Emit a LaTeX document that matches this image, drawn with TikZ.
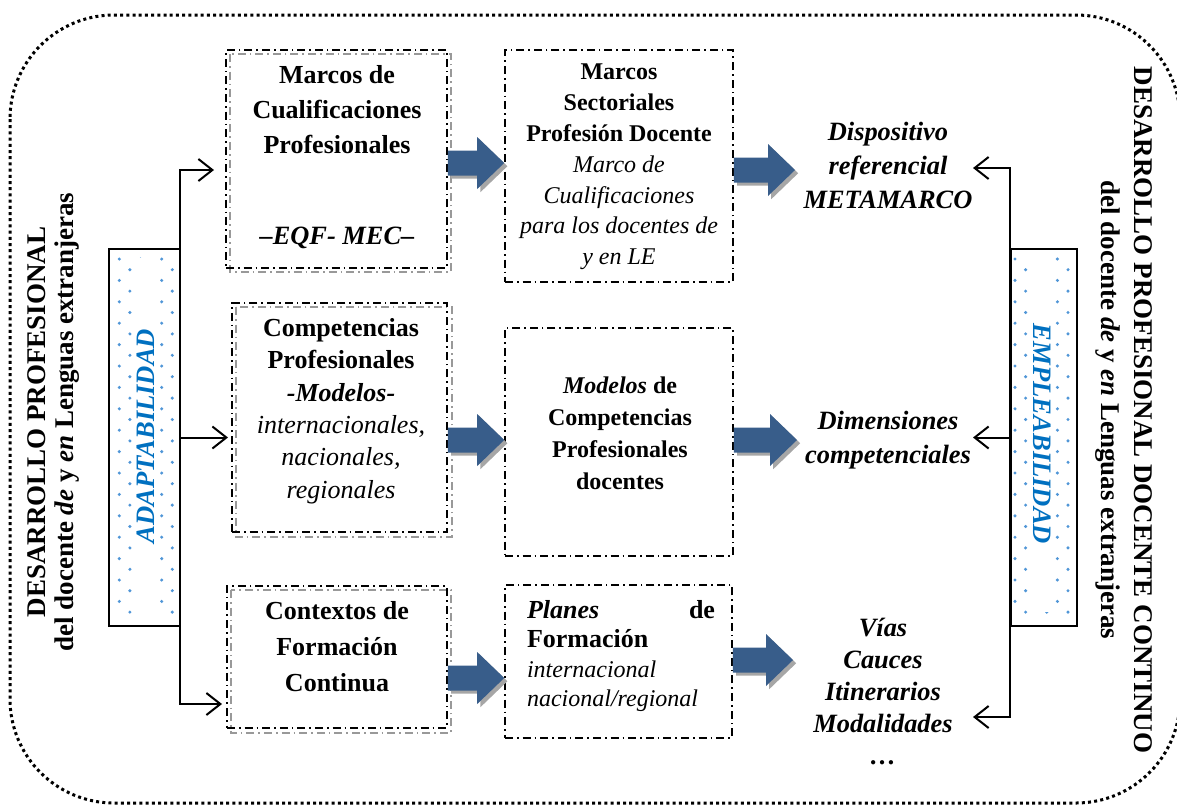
\documentclass[tikz,border=0pt]{standalone}
\usepackage{fontspec}
\setmainfont{Liberation Serif}
\usetikzlibrary{arrows.meta,calc,fit}
\definecolor{arrblue}{RGB}{56,93,138}
\definecolor{txtblue}{RGB}{0,112,192}
\definecolor{dotblue}{RGB}{80,150,215}
\newcommand\blockpath[4]{%
  \fill[#4] let \p1=(#1), \p2=(#2) in
  (\x1+#3,\y1+6.25pt-#3) -- (\x2-13.5pt+#3,\y1+6.25pt-#3) -- (\x2-13.5pt+#3,\y1+13pt-#3)
  -- (\x2+#3,\y1-#3) -- (\x2-13.5pt+#3,\y1-13pt-#3) -- (\x2-13.5pt+#3,\y1-6.25pt-#3)
  -- (\x1+#3,\y1-6.25pt-#3) -- cycle;}
\newcommand\blockarr[2]{\blockpath{#1}{#2}{1.6pt}{black!35}\blockpath{#1}{#2}{0pt}{arrblue}}
\tikzset{
  outerdot/.style={line width=1.5pt, dash pattern=on 1.5pt off 1.6pt},
  ddbox/.style={draw, line width=0.8pt, dash pattern=on 4pt off 2pt on 0.8pt off 2pt, inner sep=0pt},
  gdbox/.style={draw=black!40, line width=0.8pt, dash pattern=on 4pt off 2pt on 0.8pt off 2pt},
  sidebox/.style={draw, line width=1pt, inner sep=0pt},
  conn/.style={line width=1pt, -{Straight Barb[length=7pt,width=11pt,line width=1pt]}},
  connboth/.style={line width=1pt, {Straight Barb[length=7pt,width=11pt,line width=1pt]}-{Straight Barb[length=7pt,width=11pt,line width=1pt]}},
  boldtxt/.style={align=center, font=\bfseries\fontsize{13}{#1}\selectfont},
  bitxt/.style={align=center, font=\bfseries\itshape\fontsize{13.2}{#1}\selectfont},
  sidetxt/.style={align=center, font=\bfseries\fontsize{13.5}{#1}\selectfont},
  bluetxt/.style={text=txtblue, font=\bfseries\itshape\fontsize{13.3}{15}\selectfont, fill=white, inner sep=1pt},
}
\begin{document}
\begin{tikzpicture}[x=0.5pt, y=-0.5pt]
\useasboundingbox (0,0) rectangle (1177,805);
% outer frame
\draw[outerdot, rounded corners=52pt] (10,15) rectangle (1180,803);

% side text
\node[sidetxt=14pt, rotate=90] (LTX) at (54,422) {DESARROLLO PROFESIONAL\\del docente \textit{de} y \textit{en} Lenguas extranjeras};
\node[sidetxt=16.5pt, rotate=-90] (RTX) at (1124,410) {DESARROLLO PROFESIONAL DOCENTE CONTINUO\\del docente \textit{de} y \textit{en} Lenguas extranjeras};

% side dotted boxes
\foreach \r in {0,...,33}{\foreach \c in {0,...,5}{%
  \pgfmathtruncatemacro\m{mod(\r+\c,2)}%
  \ifnum\m=0
    \fill[dotblue] (119.3+\c*10.6, 259+\r*10.7) circle (0.85pt);
    \fill[dotblue] (1015+\c*10.6, 259+\r*10.7) circle (0.85pt);
  \fi}}
\node[sidebox, fit={(109,249)(180,626)}] (ADB) {};
\node[sidebox, fit={(1011,249)(1077,626)}] (EMB) {};
\node[bluetxt, rotate=90, minimum width=356*0.5pt] (ADT) at (146,436) {ADAPTABILIDAD};
\node[bluetxt, rotate=-90, minimum width=356*0.5pt] (EMT) at (1042,434) {EMPLEABILIDAD};

% left column boxes (double border)
\draw[gdbox] (230,54) rectangle (451,272);
\node[ddbox, fit={(226,50)(447,268)}] (A1) {};
\draw[gdbox] (236,307) rectangle (452,537);
\node[ddbox, fit={(232,303)(447,532)}] (A2) {};
\draw[gdbox] (231,590) rectangle (451,733);
\node[ddbox, fit={(227,586)(447,728)}] (A3) {};

% middle column boxes
\node[ddbox, fit={(505,50)(733,282)}] (B1) {};
\node[ddbox, fit={(505,328)(733,556)}] (B2) {};
\node[ddbox, fit={(505,585)(732,738)}] (B3) {};

% box texts
\node[boldtxt=17.5pt] (A1t) at (337,110) {Marcos de\\Cualificaciones\\Profesionales};
\node[bitxt=15pt] (A1s) at (337,238) {–EQF- MEC–};
\node[align=center, font=\fontsize{12}{15.4}\selectfont] (B1t) at (619,167)
  {\textbf{Marcos}\\\textbf{Sectoriales}\\\textbf{Profesión Docente}\\\textit{Marco de}\\\textit{Cualificaciones}\\\textit{para los docentes de}\\\textit{y en LE}};
\node[align=center, font=\fontsize{13}{16.2}\selectfont] (A2t) at (341,411)
  {\textbf{Competencias}\\\textbf{Profesionales}\\\textbf{\textit{-Modelos-}}\\\textit{internacionales,}\\\textit{nacionales,}\\\textit{regionales}};
\node[boldtxt=16pt, font=\bfseries\fontsize{12}{16}\selectfont] (B2t) at (620,433) {\textit{Modelos} de\\Competencias\\Profesionales\\docentes};
\node[boldtxt=18pt] (A3t) at (337,647) {Contextos de\\Formación\\Continua};
\node[align=left, text width=94pt, inner sep=0pt, font=\fontsize{12}{14.8}\selectfont] (B3t) at (621,656)
  {{\fontsize{13}{14.8}\selectfont\bfseries\itshape Planes\hfill\upshape de}\\{\fontsize{13}{14.8}\selectfont\bfseries Formación}\\\textit{internacional}\\\textit{nacional/regional}};

% right column texts
\node[bitxt=17pt] (D1) at (888,165) {Dispositivo\\referencial\\METAMARCO};
\node[bitxt=17pt] (D2) at (888,440) {Dimensiones\\competenciales};
\node[bitxt=16pt] (D3) at (883,691) {Vías\\Cauces\\Itinerarios\\Modalidades\\…};

% block arrows
\coordinate (T2) at (795,170);
\coordinate (T4) at (797,440);
\coordinate (T6) at (793,660);
\blockarr{A1.east |- 0,163}{B1.west |- 0,163}
\blockarr{B1.east |- T2}{T2}
\blockarr{A2.east |- 0,440}{B2.west |- 0,440}
\blockarr{B2.east |- T4}{T4}
\blockarr{A3.east |- 0,678}{B3.west |- 0,678}
\blockarr{B3.east |- T6}{T6}

% left bracket connectors
\coordinate (LT) at (180,170);
\coordinate (LB) at (180,704);
\coordinate (A1tip) at (214,170);
\coordinate (A3tip) at (222,704);
\draw[connboth] (A1tip) -- (LT) -- (LB) -- (A3tip);
\draw[conn] (ADB.east) -- (ADB.east -| 228,0);

% right bracket connectors
\coordinate (RT) at (1010,168);
\coordinate (RB) at (1010,717);
\coordinate (D1tip) at (973,168);
\coordinate (D3tip) at (973,717);
\draw[connboth] (D1tip) -- (RT) -- (RB) -- (D3tip);
\draw[conn] (EMB.west) -- (EMB.west -| 973,0);
\end{tikzpicture}
\end{document}
